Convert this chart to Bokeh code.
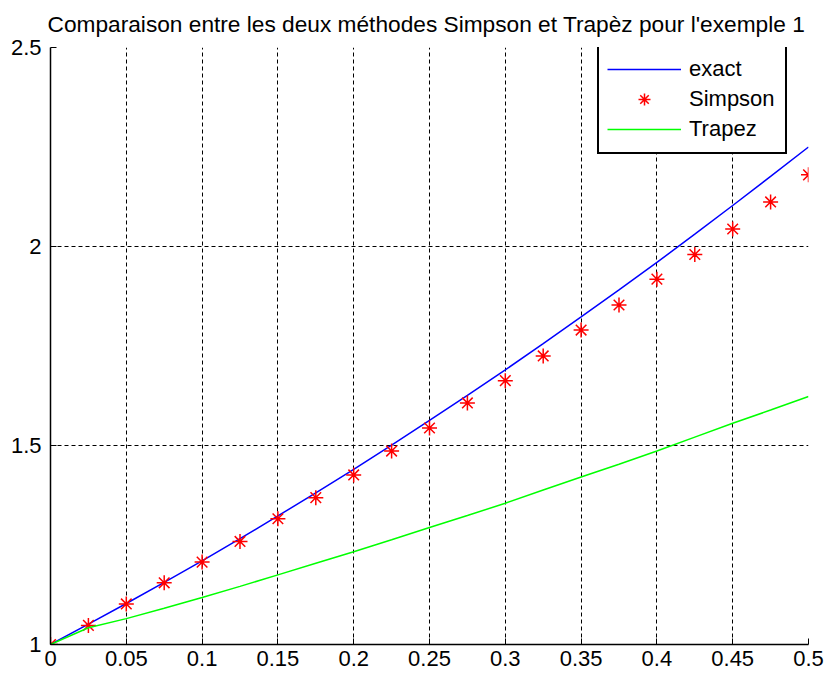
from bokeh.plotting import figure
from bokeh.models import Range1d, FixedTicker, Legend, LegendItem
from bokeh.embed import file_html
from bokeh.resources import INLINE

# ---- data ----
x_vals = [0.0, 0.025, 0.05, 0.075, 0.1, 0.125, 0.15, 0.175, 0.2, 0.225, 0.25,
          0.275, 0.3, 0.325, 0.35, 0.375, 0.4, 0.425, 0.45, 0.475, 0.5]
exact_vals = [1.0, 1.051, 1.103, 1.156, 1.21, 1.266, 1.323, 1.381, 1.44, 1.501, 1.563,
              1.626, 1.69, 1.756, 1.823, 1.891, 1.96, 2.031, 2.103, 2.176, 2.25]
simpson_vals = [1.0, 1.048, 1.102, 1.155, 1.207, 1.259, 1.316, 1.369, 1.426, 1.486, 1.544,
                1.607, 1.663, 1.725, 1.790, 1.853, 1.918, 1.980, 2.044, 2.112, 2.180]
trapez_vals = [1.0, 1.042, 1.065, 1.091, 1.118, 1.146, 1.175, 1.204, 1.233, 1.263, 1.294,
               1.324, 1.355, 1.388, 1.421, 1.453, 1.486, 1.521, 1.556, 1.589, 1.623]

x_ticks = [0, 0.05, 0.1, 0.15, 0.2, 0.25, 0.3, 0.35, 0.4, 0.45, 0.5]
x_tick_labels = ["0", "0.05", "0.1", "0.15", "0.2", "0.25", "0.3", "0.35", "0.4", "0.45", "0.5"]
y_ticks = [1, 1.5, 2, 2.5]
y_tick_labels = ["1", "1.5", "2", "2.5"]

title_text = "Comparaison entre  les deux m\u00e9thodes Simpson et Trap\u00e8z pour l'exemple 1"
series_names = ["exact", "Simpson", "Trapez"]

FONT = "Liberation Sans"
FS = "22px"

p = figure(frame_width=758, frame_height=597, output_backend="svg", toolbar_location=None,
           x_range=Range1d(0, 0.5), y_range=Range1d(1, 2.5),
           min_border_left=50, min_border_right=18, min_border_top=47, min_border_bottom=28)
p.background_fill_color = "white"
p.border_fill_color = "white"
p.outline_line_color = None

p.title.text = title_text
p.title.align = "center"
p.title.vertical_align = "top"
p.title.text_font = FONT
p.title.text_font_size = "22.7px"
p.title.text_font_style = "normal"
p.title.text_color = "black"
p.title.offset = 0
p.title.standoff = 18

for ax in (p.xaxis[0], p.yaxis[0]):
    ax.major_tick_in = 6
    ax.major_tick_out = 0
    ax.minor_tick_in = 0
    ax.minor_tick_out = 0
    ax.axis_line_color = "black"
    ax.axis_line_width = 1.5
    ax.major_tick_line_color = "black"
    ax.major_label_text_font = FONT
    ax.major_label_text_font_size = FS
    ax.major_label_text_color = "black"

p.xaxis.ticker = FixedTicker(ticks=x_ticks)
p.xaxis.major_label_overrides = {t: l for t, l in zip(x_ticks, x_tick_labels)}
p.yaxis.ticker = FixedTicker(ticks=y_ticks)
p.yaxis.major_label_overrides = {t: l for t, l in zip(y_ticks, y_tick_labels)}
p.xaxis.major_label_standoff = 6
p.yaxis.major_label_standoff = 9

p.grid.grid_line_color = "black"
p.grid.grid_line_dash = "4 3"
p.grid.grid_line_width = 1
p.xgrid.ticker = FixedTicker(ticks=x_ticks)
p.ygrid.ticker = FixedTicker(ticks=y_ticks)

r_exact = p.line(x_vals, exact_vals, line_color="#0000ff", line_width=1.5)
r_simp = p.scatter(x_vals, simpson_vals, marker="asterisk", size=15, line_color="#ff0000",
                   line_width=1.5)
r_trap = p.line(x_vals, trapez_vals, line_color="#00ff00", line_width=1.5)

legend = Legend(items=[LegendItem(label=series_names[0], renderers=[r_exact]),
                       LegendItem(label=series_names[1], renderers=[r_simp]),
                       LegendItem(label=series_names[2], renderers=[r_trap])],
                location=(547, 490))
legend.label_text_font = FONT
legend.label_text_font_size = FS
legend.label_text_color = "black"
legend.border_line_color = "black"
legend.border_line_alpha = 1.0
legend.border_line_width = 2
legend.background_fill_color = "white"
legend.background_fill_alpha = 1
legend.padding = 8
legend.spacing = 0
legend.margin = 0
legend.glyph_width = 74
legend.glyph_height = 30
legend.label_height = 30
legend.label_width = 88
legend.label_standoff = 8
p.add_layout(legend, "center")

open("out.html", "w").write(file_html(p, INLINE))
